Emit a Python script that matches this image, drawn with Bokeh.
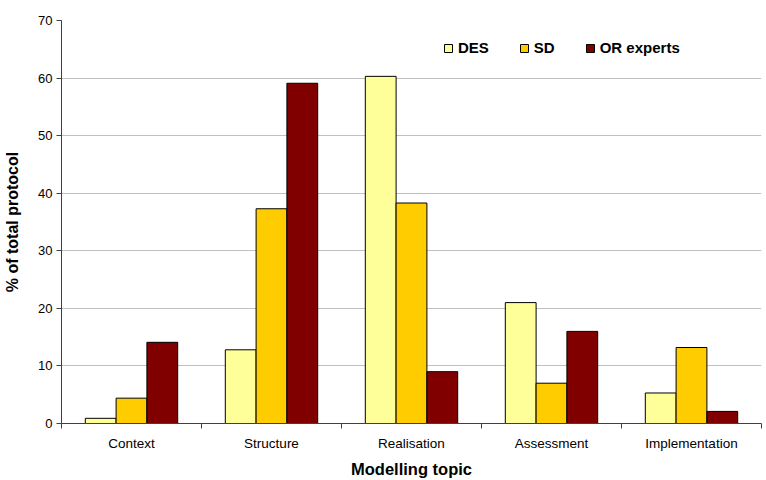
from bokeh.plotting import figure
from bokeh.models import ColumnDataSource, FixedTicker, Range1d, Legend, LegendItem
from bokeh.embed import file_html
from bokeh.resources import INLINE

categories = ["Context", "Structure", "Realisation", "Assessment", "Implementation"]
series_names = ["DES", "SD", "OR experts"]
des = [0.9, 12.8, 60.3, 21.0, 5.3]
sd = [4.4, 37.3, 38.3, 7.0, 13.2]
or_experts = [14.1, 59.1, 9.0, 16.0, 2.1]
colors = ["#FFFF99", "#FFCC00", "#800000"]
y_ticks = [0, 10, 20, 30, 40, 50, 60, 70]

FONT = "Liberation Sans"

p = figure(width=766, height=480, output_backend="svg", toolbar_location=None,
           x_range=Range1d(0, len(categories)), y_range=Range1d(0, 70),
           min_border_left=61, min_border_right=5, min_border_top=20, min_border_bottom=56)
p.outline_line_color = None

centers = [i + 0.5 for i in range(len(categories))]
bw = 0.22
offsets = [-bw, 0.0, bw]
items = []
for vals, off, col, name in zip([des, sd, or_experts], offsets, colors, series_names):
    src = ColumnDataSource(dict(x=[c + off for c in centers], top=vals))
    r = p.vbar(x="x", top="top", width=bw, bottom=0, source=src,
               fill_color=col, line_color="#000000", line_width=1)
    items.append(LegendItem(label=name, renderers=[r]))

legend = Legend(items=items, orientation="horizontal", location=(382, 367),
                background_fill_alpha=0, border_line_color=None,
                label_text_font=FONT, label_text_font_style="bold",
                label_text_font_size="15px", label_text_color="#000000",
                glyph_width=10, glyph_height=10, label_height=15,
                label_standoff=5, spacing=30, padding=0, margin=0)
p.add_layout(legend, "center")

# x axis
p.xaxis.ticker = FixedTicker(ticks=centers, minor_ticks=list(range(len(categories) + 1)))
p.xaxis.major_label_overrides = {c: n for c, n in zip(centers, categories)}
p.xaxis.major_tick_in = 0
p.xaxis.major_tick_out = 0
p.xaxis.minor_tick_in = 0
p.xaxis.minor_tick_out = 5
p.xaxis.minor_tick_line_color = "#404040"
p.xaxis.axis_line_color = "#404040"
p.xaxis.major_label_text_font = FONT
p.xaxis.major_label_text_font_size = "13.5px"
p.xaxis.major_label_text_color = "#000000"
p.xaxis.major_label_standoff = 7
p.xaxis.axis_label = "Modelling topic"
p.xaxis.axis_label_text_font = FONT
p.xaxis.axis_label_text_font_style = "bold"
p.xaxis.axis_label_text_font_size = "16.5px"
p.xaxis.axis_label_text_color = "#000000"
p.xaxis.axis_label_standoff = 6

# y axis
p.yaxis.ticker = FixedTicker(ticks=y_ticks)
p.yaxis.major_tick_in = 0
p.yaxis.major_tick_out = 5
p.yaxis.minor_tick_line_color = None
p.yaxis.axis_line_color = "#404040"
p.yaxis.major_tick_line_color = "#404040"
p.yaxis.major_label_text_font = FONT
p.yaxis.major_label_text_font_size = "13px"
p.yaxis.major_label_text_color = "#000000"
p.yaxis.major_label_standoff = 4
p.yaxis.axis_label = "% of total protocol"
p.yaxis.axis_label_text_font = FONT
p.yaxis.axis_label_text_font_style = "bold"
p.yaxis.axis_label_text_font_size = "16px"
p.yaxis.axis_label_text_color = "#000000"
p.yaxis.axis_label_standoff = 14

p.xgrid.grid_line_color = None
p.ygrid.ticker = FixedTicker(ticks=y_ticks)
p.ygrid.grid_line_color = "#c0c0c0"
p.ygrid.grid_line_width = 1

open("out.html", "w").write(file_html(p, INLINE))
